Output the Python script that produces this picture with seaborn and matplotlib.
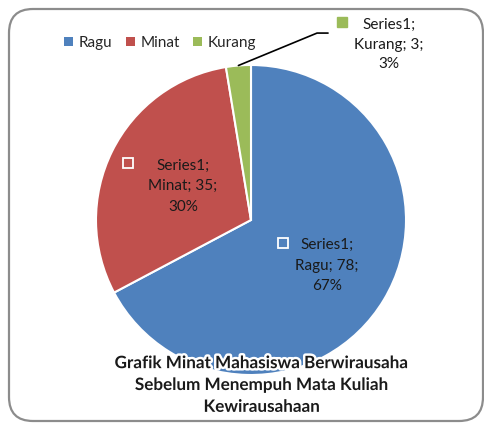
import numpy as np
import matplotlib
matplotlib.use("Agg")
import matplotlib.pyplot as plt
import seaborn as sns
from matplotlib.patches import FancyBboxPatch, Patch
from matplotlib.transforms import IdentityTransform
import matplotlib.patheffects as pe

categories = ["Ragu", "Minat", "Kurang"]
values = [78, 35, 3]
percent_labels = ["67%", "30%", "3%"]
series_name = "Series1"
title_lines = ["Grafik Minat Mahasiswa Berwirausaha", "Sebelum Menempuh Mata Kuliah", "Kewirausahaan"]

sns.set_theme(style="white")
plt.rcParams["font.family"] = ["Lato", "DejaVu Sans"]
colors = sns.color_palette(["#4F81BD", "#C0504D", "#9BBB59"])

W, H = 484, 423
fig = plt.figure(figsize=(W / 100, H / 100), dpi=100)

# frame
frame = FancyBboxPatch((9, H - 421), 474, 412, boxstyle="round,pad=0,rounding_size=24",
                       transform=IdentityTransform(), facecolor="none",
                       edgecolor="#8c8c8c", linewidth=1.6, zorder=-1)
fig.patches.append(frame)

cx, cy, r = 251, 220, 155
ax = fig.add_axes([(cx - r) / W, (H - cy - r) / H, 2 * r / W, 2 * r / H])
ax.patch.set_alpha(0)
wedges, _ = ax.pie(values, colors=colors, startangle=90, counterclock=False,
                   wedgeprops=dict(edgecolor="white", linewidth=1.5))
ax.set_xlim(-1, 1)
ax.set_ylim(-1, 1)
ax.set_aspect("equal")
ax.axis("off")

fs = 11
for i, (w, cat, v, p) in enumerate(zip(wedges, categories, values, percent_labels)):
    mid = np.deg2rad((w.theta1 + w.theta2) / 2)
    txt = f"{series_name};\n{cat}; {v};\n{p}"
    if i < 2:
        rl = [0.57, 0.49][i]
        tx, ty = rl * np.cos(mid), rl * np.sin(mid)
        ax.text(tx, ty, txt, ha="center", va="center", fontsize=fs, color="#1a1a1a",
                linespacing=1.58)
        mx = tx - [0.285, 0.355][i]
        my = ty + 0.148
        ax.plot([mx], [my], marker="s", markersize=6.5, markerfacecolor=colors[i],
                markeredgecolor="white", markeredgewidth=1.3, linestyle="none")
    else:
        ex, ey = np.cos(mid), np.sin(mid)
        ax.plot([ex, 0.426, 0.497], [ey, 1.206, 1.206], color="black", lw=1.2, clip_on=False)
        tx, ty = 0.89, 1.13
        ax.text(tx, ty, txt, ha="center", va="center", fontsize=fs, color="#1a1a1a",
                linespacing=1.5)
        ax.plot([0.587], [1.275], marker="s", markersize=6.5, markerfacecolor=colors[i],
                markeredgecolor=colors[i], linestyle="none", clip_on=False)

handles = [Patch(facecolor=c, edgecolor="none") for c in colors]
fig.legend(handles, categories, loc="center", bbox_to_anchor=(160 / W, 1 - 43 / H),
           ncol=3, frameon=False, fontsize=fs, handlelength=0.6, handleheight=0.6,
           handletextpad=0.35, columnspacing=0.9)

fig.text(262 / W, 1 - 385 / H, "\n".join(title_lines), ha="center", va="center",
         fontsize=12.3, fontweight="bold", color="#1a1a1a", linespacing=1.45,
         path_effects=[pe.withStroke(linewidth=3.5, foreground="white")])

fig.savefig("out.png", dpi=100)
